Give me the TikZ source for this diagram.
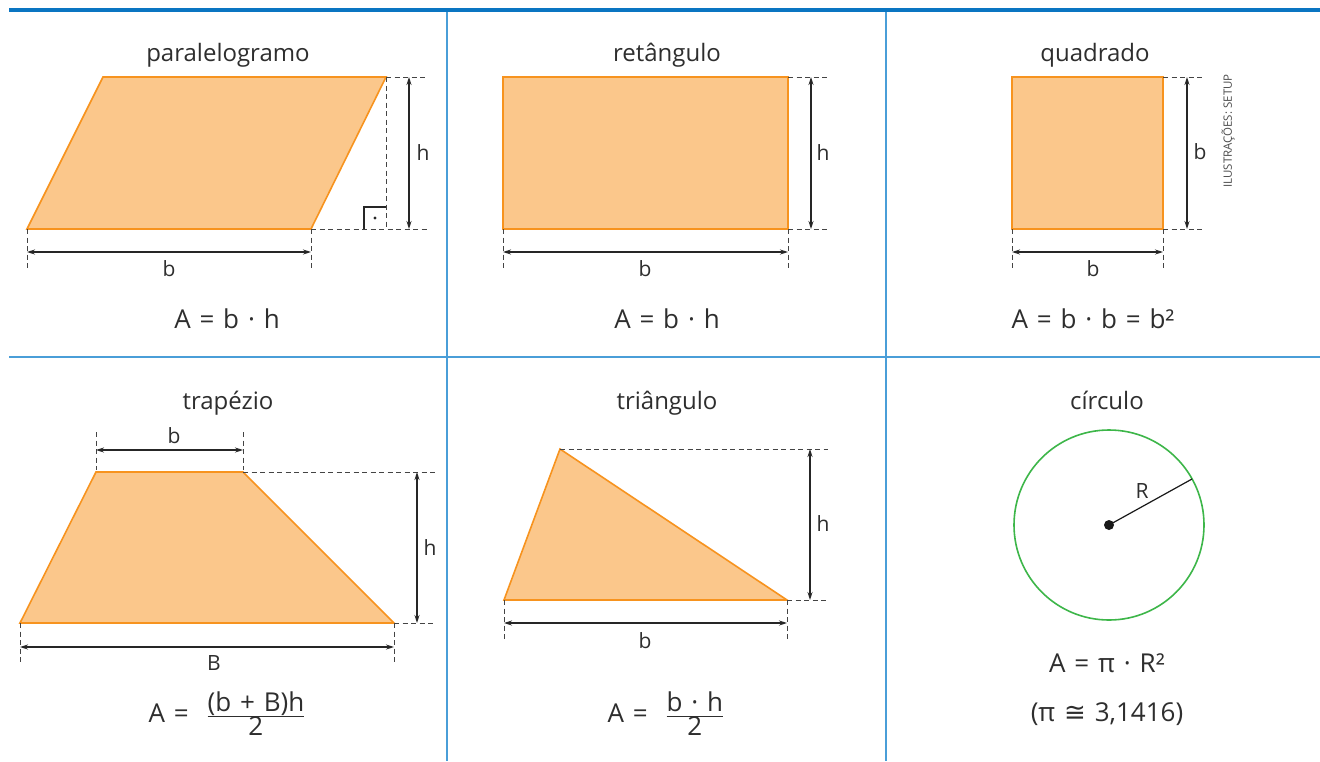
\documentclass[tikz,border=0pt]{standalone}
\usepackage{fontspec}
\setmainfont{Open Sans}
\newfontfamily\symfont{DejaVu Sans}
\usetikzlibrary{arrows.meta}
\definecolor{shapefill}{HTML}{FBC78B}
\definecolor{shapeline}{HTML}{F7931E}
\definecolor{topblue}{HTML}{0A75C2}
\definecolor{divblue}{HTML}{4A9ED8}
\definecolor{circgreen}{HTML}{3DB649}
\definecolor{txt}{HTML}{2E2E2E}
\definecolor{dimgray}{HTML}{444444}
\newcommand\gp{\hspace{0.34em}}
\begin{document}
\begin{tikzpicture}[x=1pt,y=-1pt,
  figshape/.style={fill=shapefill,draw=shapeline,line width=1.6pt,line join=miter},
  ext/.style={draw=dimgray,line width=1pt,dash pattern=on 5pt off 3.5pt},
  meas/.style={draw=black!85,line width=1.1pt,{Stealth[length=8pt,width=5pt]}-{Stealth[length=8pt,width=5pt]}},
  lbl/.style={text=txt,font=\fontsize{21}{21}\selectfont,inner sep=0pt,anchor=base},
  ttl/.style={text=txt,font=\fontsize{24}{24}\selectfont,inner sep=0pt,anchor=base},
  frm/.style={text=txt,font=\fontsize{26}{30}\selectfont,inner sep=0pt,anchor=base},
  divider/.style={draw=divblue,line width=1.6pt},
]
\useasboundingbox (0,0) rectangle (1320,761);
\fill[white] (0,0) rectangle (1320,761);

% frame lines
\coordinate (tl) at (9,9.5); \coordinate (tr) at (1320,9.5);
\coordinate (ml) at (9,357); \coordinate (mr) at (1320,357);
\coordinate (v1t) at (447,11.5); \coordinate (v1b) at (447,761);
\coordinate (v2t) at (886,11.5); \coordinate (v2b) at (886,761);
\draw[divider] (ml) -- (mr);
\draw[divider] (v1t) -- (v1b);
\draw[divider] (v2t) -- (v2b);
\draw[draw=topblue,line width=4pt] (tl) -- (tr);

% ---------- parallelogram ----------
\node[ttl] (t1) at (228,61) {paralelogramo};
\coordinate (p1) at (27,229); \coordinate (p2) at (311,229);
\coordinate (p3) at (386,77); \coordinate (p4) at (103,77);
\draw[figshape] (p1) -- (p2) -- (p3) -- (p4) -- cycle;
\coordinate (pe1) at (428,77); \coordinate (pe2) at (428,229);
\coordinate (pf) at (386,229);
\draw[ext] (p3) -- (pe1);
\draw[ext] (p3) -- (pf);
\draw[ext] (p2) -- (pe2);
\coordinate (pr1) at (364,229); \coordinate (pr2) at (364,207); \coordinate (pr3) at (386,207);
\draw[black!85,line width=1.1pt] (pr1) -- (pr2) -- (pr3);
\coordinate (pdot) at (375,218);
\fill[black!85] (pdot) circle[radius=1.7];
\coordinate (pha) at (409,77); \coordinate (phb) at (409,229);
\draw[meas] (pha) -- (phb);
\node[lbl] (ph) at (423,160) {h};
\coordinate (pt1) at (27,270); \coordinate (pt2) at (311,270);
\draw[ext] (p1) -- (pt1);
\draw[ext] (p2) -- (pt2);
\coordinate (pba) at (27,252); \coordinate (pbb) at (311,252);
\draw[meas] (pba) -- (pbb);
\node[lbl] (pb) at (169,276) {b};
\node[frm] (f1) at (227,328) {A\gp=\gp b\gp·\gp h};

% ---------- rectangle ----------
\node[ttl] (t2) at (667,61) {retângulo};
\coordinate (r1) at (503,229); \coordinate (r2) at (788,229);
\coordinate (r3) at (788,77); \coordinate (r4) at (503,77);
\draw[figshape] (r1) -- (r2) -- (r3) -- (r4) -- cycle;
\coordinate (re1) at (830,77); \coordinate (re2) at (830,229);
\draw[ext] (r3) -- (re1);
\draw[ext] (r2) -- (re2);
\coordinate (rha) at (811,77); \coordinate (rhb) at (811,229);
\draw[meas] (rha) -- (rhb);
\node[lbl] (rh) at (823,160) {h};
\coordinate (rt1) at (503,270); \coordinate (rt2) at (788,270);
\draw[ext] (r1) -- (rt1);
\draw[ext] (r2) -- (rt2);
\coordinate (rba) at (503,252); \coordinate (rbb) at (788,252);
\draw[meas] (rba) -- (rbb);
\node[lbl] (rb) at (645,276) {b};
\node[frm] (f2) at (667,328) {A\gp=\gp b\gp·\gp h};

% ---------- square ----------
\node[ttl] (t3) at (1095,61) {quadrado};
\coordinate (s1) at (1012,229); \coordinate (s2) at (1163,229);
\coordinate (s3) at (1163,77); \coordinate (s4) at (1012,77);
\draw[figshape] (s1) -- (s2) -- (s3) -- (s4) -- cycle;
\coordinate (se1) at (1204,77); \coordinate (se2) at (1204,229);
\draw[ext] (s3) -- (se1);
\draw[ext] (s2) -- (se2);
\coordinate (sha) at (1187,77); \coordinate (shb) at (1187,229);
\draw[meas] (sha) -- (shb);
\node[lbl] (sh) at (1200,159) {b};
\coordinate (st1) at (1012,270); \coordinate (st2) at (1163,270);
\draw[ext] (s1) -- (st1);
\draw[ext] (s2) -- (st2);
\coordinate (sba) at (1012,252); \coordinate (sbb) at (1163,252);
\draw[meas] (sba) -- (sbb);
\node[lbl] (sb) at (1093,276) {b};
\node[frm] (f3) at (1093,328) {A\gp=\gp b\gp·\gp b\gp=\gp b²};
\node[rotate=90,text=black!70,font=\fontsize{11.5}{12}\selectfont,inner sep=0pt] (cred) at (1228,131) {ILUSTRAÇÕES: SETUP};

% ---------- trapezoid ----------
\node[ttl] (t4) at (228,409) {trapézio};
\coordinate (q1) at (20,623); \coordinate (q2) at (394,623);
\coordinate (q3) at (243,472); \coordinate (q4) at (96,472);
\draw[figshape] (q1) -- (q2) -- (q3) -- (q4) -- cycle;
\coordinate (qe1) at (435,472); \coordinate (qe2) at (435,623);
\draw[ext] (q3) -- (qe1);
\draw[ext] (q2) -- (qe2);
\coordinate (qha) at (417,472); \coordinate (qhb) at (417,623);
\draw[meas] (qha) -- (qhb);
\node[lbl] (qh) at (430,555) {h};
\coordinate (qu1) at (96,432); \coordinate (qu1b) at (96,470);
\coordinate (qu2) at (243,432); \coordinate (qu2b) at (243,470);
\draw[ext] (qu1) -- (qu1b);
\draw[ext] (qu2) -- (qu2b);
\coordinate (qsa) at (96,450); \coordinate (qsb) at (243,450);
\draw[meas] (qsa) -- (qsb);
\node[lbl] (qs) at (174,443) {b};
\coordinate (qt1) at (20,665); \coordinate (qt2) at (394,665);
\draw[ext] (q1) -- (qt1);
\draw[ext] (q2) -- (qt2);
\coordinate (qba) at (20,647); \coordinate (qbb) at (394,647);
\draw[meas] (qba) -- (qbb);
\node[lbl] (qb) at (214,670) {B};
\node[frm] (f4) at (227,722) {A\gp=\gp\gp$\frac{\hbox{(b\gp+\gp B)h}}{\hbox{2}}$};

% ---------- triangle ----------
\node[ttl] (t5) at (667,409) {triângulo};
\coordinate (a1) at (504,600); \coordinate (a2) at (787,600);
\coordinate (a3) at (560,449);
\draw[figshape] (a1) -- (a2) -- (a3) -- cycle;
\coordinate (ae1) at (828,449); \coordinate (ae2) at (828,600);
\draw[ext] (a3) -- (ae1);
\draw[ext] (a2) -- (ae2);
\coordinate (aha) at (810,449); \coordinate (ahb) at (810,600);
\draw[meas] (aha) -- (ahb);
\node[lbl] (ah) at (823,531) {h};
\coordinate (at1) at (504,642); \coordinate (at2) at (787,642);
\draw[ext] (a1) -- (at1);
\draw[ext] (a2) -- (at2);
\coordinate (aba) at (504,623); \coordinate (abb) at (787,623);
\draw[meas] (aba) -- (abb);
\node[lbl] (ab) at (645,648) {b};
\node[frm] (f5) at (666,722) {A\gp=\gp\gp$\frac{\hbox{\vphantom{(}b\gp·\gp h}}{\hbox{2}}$};

% ---------- circle ----------
\node[ttl] (t6) at (1107,409) {círculo};
\coordinate (cc) at (1109,525);
\coordinate (ce) at (1192,479);
\draw[circgreen,line width=1.6pt] (cc) circle[radius=95];
\draw[black!90,line width=1.2pt] (cc) -- (ce);
\fill[black!90] (cc) circle[radius=5];
\node[lbl] (cr) at (1142,498) {R};
\node[frm] (f6) at (1107,672) {A\gp=\gp π\gp·\gp R²};
\node[frm] (f7) at (1107,721) {(π\gp{\symfont ≅}\gp 3,1416)};
\end{tikzpicture}
\end{document}
